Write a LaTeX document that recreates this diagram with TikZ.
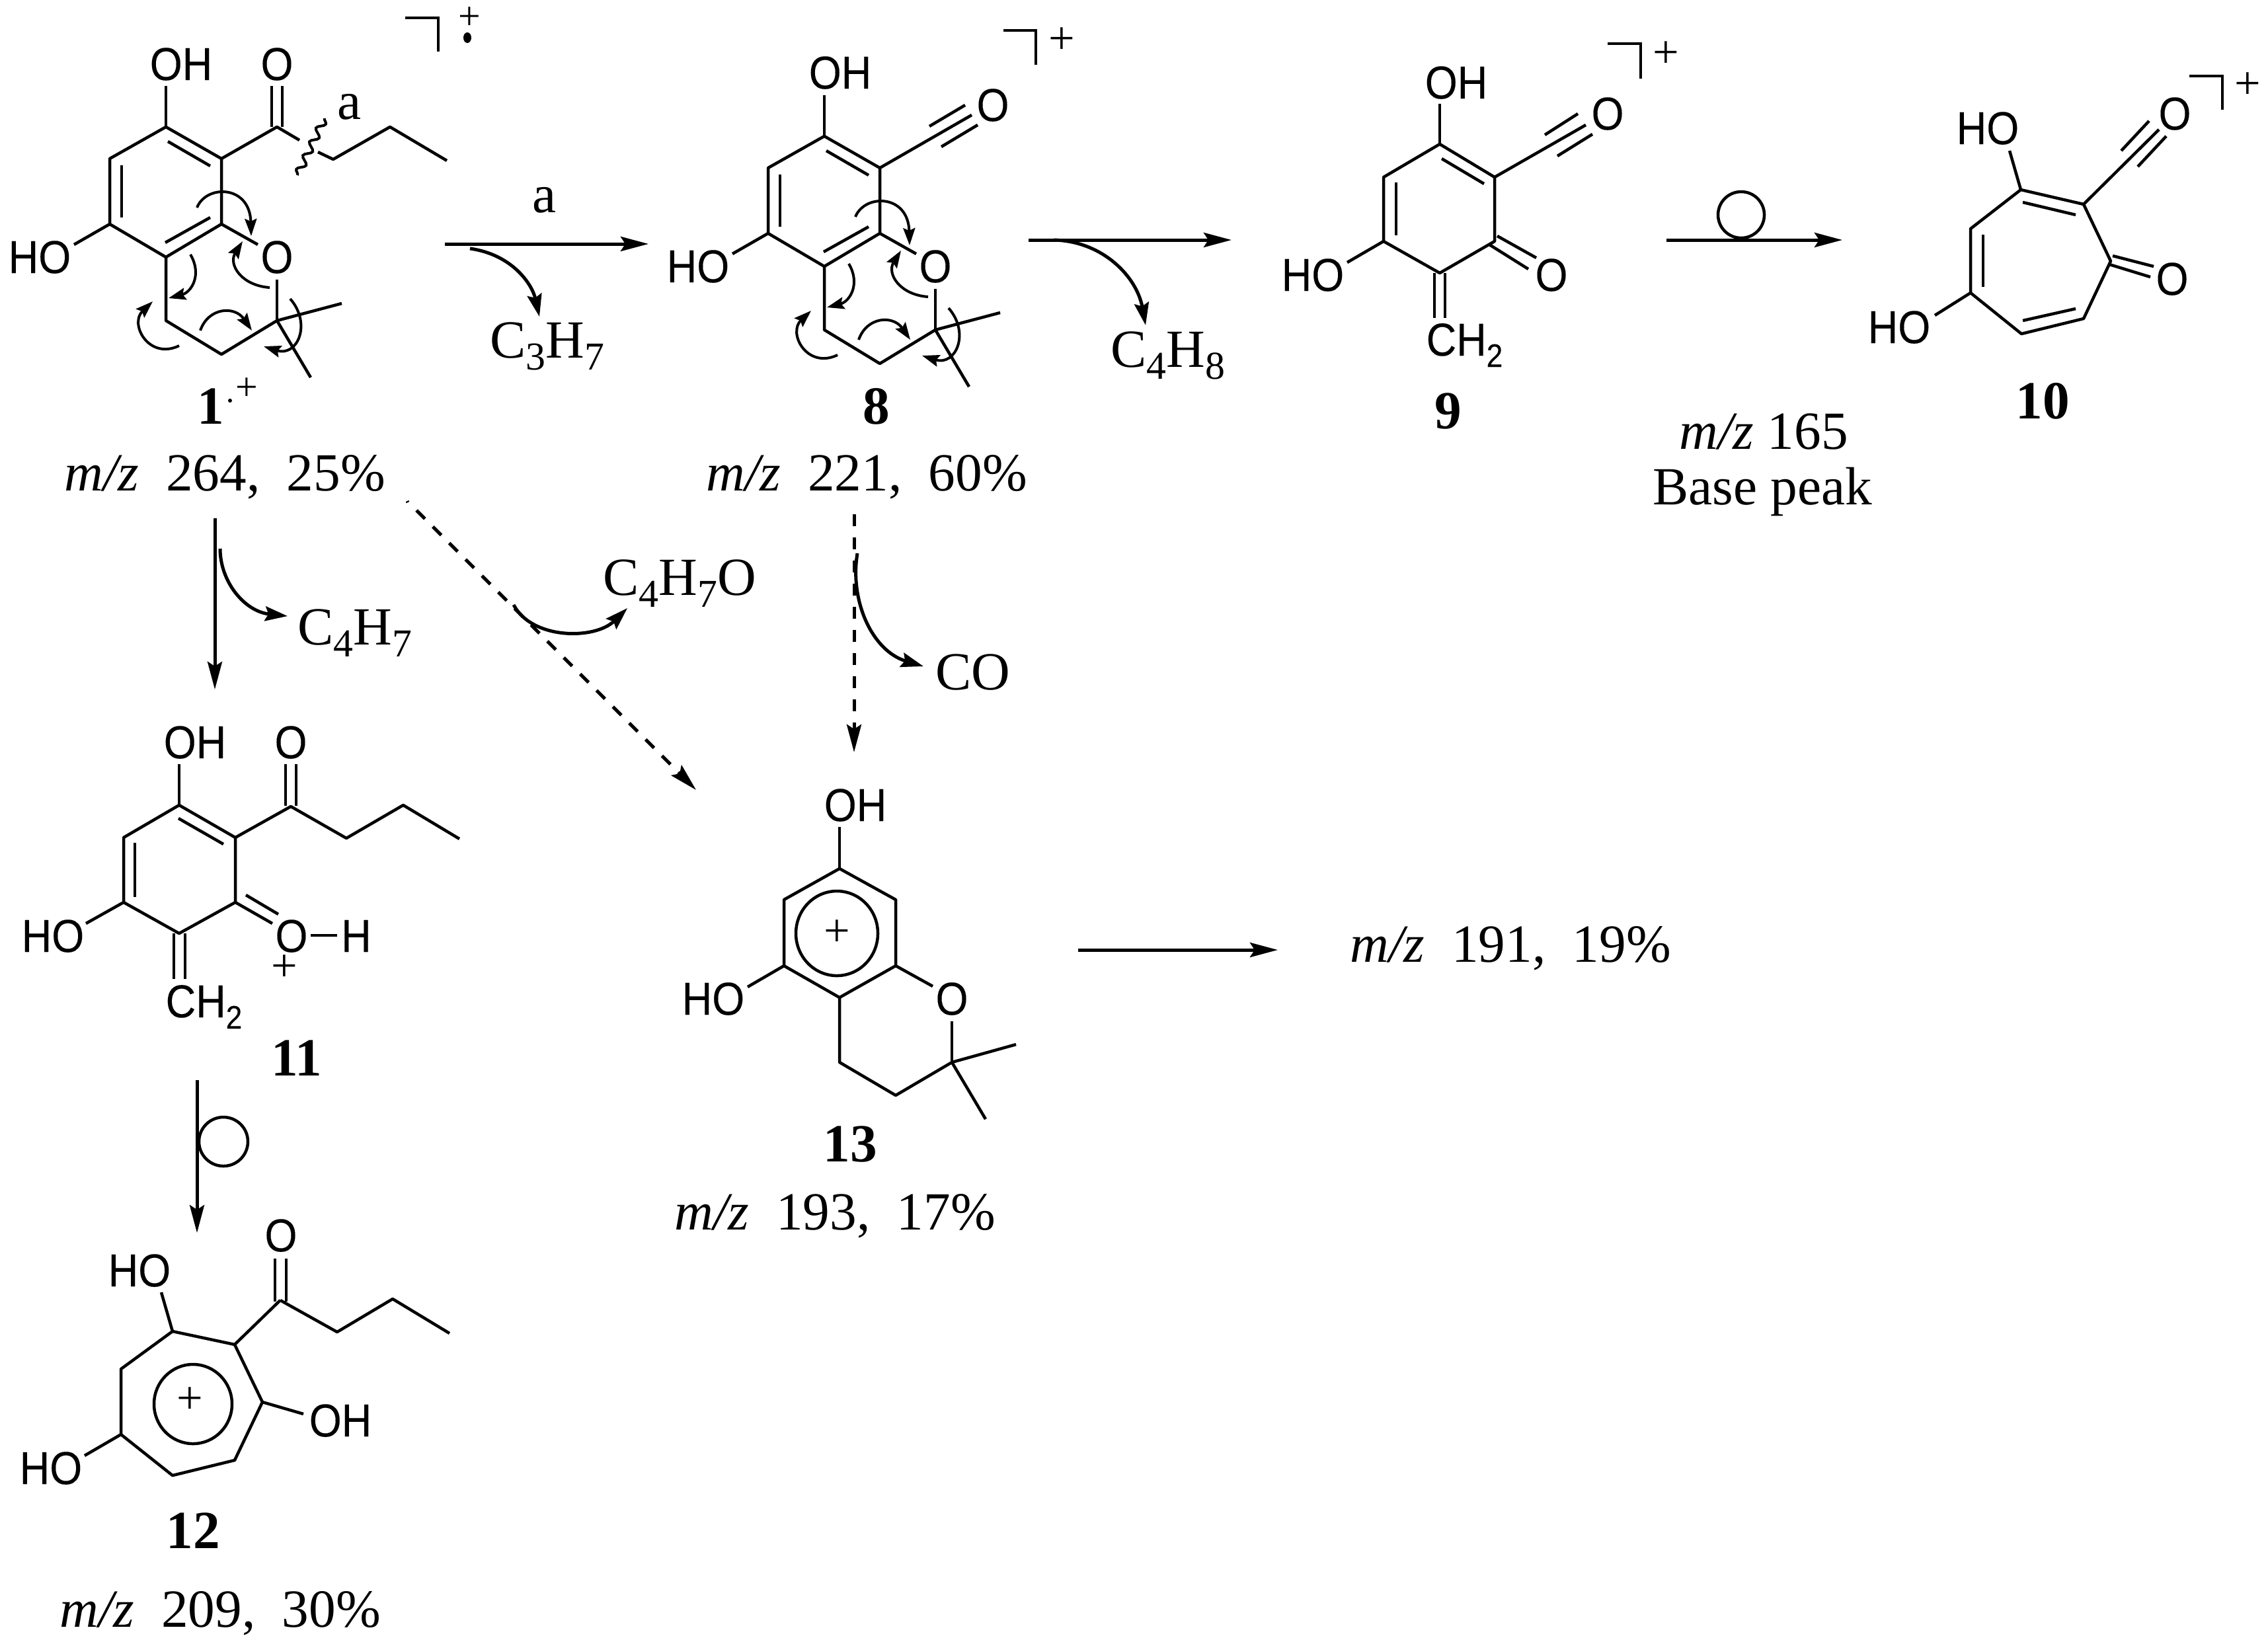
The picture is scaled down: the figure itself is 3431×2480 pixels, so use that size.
\documentclass[tikz,border=0pt]{standalone}
\usepackage{fontspec}
\setmainfont{Liberation Serif}
\newfontfamily\chemfam[FakeStretch=0.9,FakeBold=0.12]{Liberation Sans}
\usetikzlibrary{arrows.meta,decorations.pathmorphing}
\newcommand{\chemf}{\chemfam\fontsize{19.9pt}{24pt}\selectfont}
\newcommand{\serf}{\fontsize{23.1pt}{26pt}\selectfont}
\newcommand{\lowsub}[1]{\raisebox{-0.18cm}{\fontsize{17pt}{17pt}\selectfont #1}}
\newcommand{\chemsub}[1]{\raisebox{-0.17cm}{\fontsize{14pt}{14pt}\selectfont #1}}
\newcommand{\mz}{\textit{m/z}}
\tikzset{
  bond/.style={line width=0.045cm},
  thinbond/.style={line width=0.04cm},
  atom/.style={font=\chemf,inner sep=0pt,anchor=center},
  atomw/.style={font=\chemf,inner sep=0pt,anchor=base west},
  txt/.style={font=\serf,inner sep=0pt,anchor=base west},
  compound/.style={font=\serf\bfseries,inner sep=0pt,anchor=center},
  plus/.style={font=\fontsize{20pt}{20pt}\selectfont,inner sep=0pt,anchor=center},
  rxn/.style={line width=0.05cm,-{Stealth[length=0.42cm,width=0.22cm,inset=0.07cm]}},
  dashrxn/.style={rxn,dash pattern=on 0.18cm off 0.17cm},
  loss/.style={line width=0.05cm,-{Stealth[length=0.34cm,width=0.22cm,inset=0.05cm]}},
  eflow/.style={line width=0.04cm,-{Stealth[length=0.26cm,width=0.18cm,inset=0.04cm]}},
  ringcirc/.style={line width=0.045cm}
}
\newcommand{\chromancore}{%
  \draw[bond,line join=round] (335,240) -- (251,192) -- (166,240) -- (166,339) -- (251,389) -- (335,339) -- cycle;
  \draw[bond] (184,250) -- (184,329);
  \draw[bond] (254,214) -- (318,251);
  \draw[bond] (250,367) -- (318,329);
  \draw[bond] (251,192) -- (251,130);
  \draw[bond] (166,339) -- (112,370);
  \draw[bond] (335,339) -- (390,370);
  \draw[bond] (419,423) -- (419,485);
  \draw[bond,line join=round] (251,389) -- (251,485) -- (335,536) -- (419,485);
  \draw[bond] (419,485) -- (517,459);
  \draw[bond] (419,485) -- (470,571);
  \draw[eflow] (298,314) .. controls (312,279) and (378,279) .. (380,357);
  \draw[eflow] (408,435) .. controls (365,432) and (345,400) .. (367,365);
  \draw[eflow] (288,385) .. controls (306,415) and (290,442) .. (255,451);
  \draw[eflow] (271,523) .. controls (225,545) and (195,490) .. (231,456);
  \draw[eflow] (303,500) .. controls (315,465) and (355,462) .. (381,500);
  \draw[eflow] (439,452) .. controls (472,490) and (450,540) .. (399,524);
}
\begin{document}
\begin{tikzpicture}[x=0.01cm,y=-0.01cm]
\useasboundingbox (0,0) rectangle (3431,2480);
\fill[white] (0,0) rectangle (3431,2480);

% ---------- compound 1
\chromancore
\node[atom] (oh1) at (274,97) {OH};
\node[atom] (ho1) at (60,389) {HO};
\node[atom] (o1r) at (419,389) {O};
\node[atom] (o1c) at (419,97) {O};
\draw[bond] (411,130) -- (411,192);
\draw[bond] (427,130) -- (427,192);
\draw[bond,line join=round] (335,240) -- (419,192) -- (453,212);
\draw[bond,line join=round] (481,230) -- (504,241) -- (590,192) -- (676,243);
\draw[thinbond,decorate,decoration={snake,segment length=0.23cm,amplitude=0.055cm}] (491,179) -- (450,265);
\node[txt,anchor=base] (la) at (529,180) {a};
\draw[bond] (613,27) -- (663,27) -- (663,78);
\node[plus,font=\fontsize{17pt}{17pt}\selectfont] (p1) at (710,28) {+};
\fill (707,57) ellipse (6 and 8);
\node[compound] (n1) at (319,615) {1};
\fill (348,606) circle (3);
\node[plus,font=\fontsize{17pt}{17pt}\selectfont] (n1p) at (373,589) {+};
\node[txt] (mz1) at (97,742) {\mz\ \ 264,\ \ 25\%};

% ---------- arrow 1 -> 8
\coordinate (a1s) at (673,369);
\coordinate (a1e) at (981,369);
\draw[rxn] (a1s) -- (a1e);
\node[txt,anchor=base] (la2) at (824,321) {a};
\coordinate (l1s) at (711,376);
\coordinate (l1e) at (816,479);
\draw[loss] (l1s) .. controls (775,385) and (805,430) .. (l1e);
\node[txt] (c3h7) at (741,541) {C\lowsub{3}H\lowsub{7}};

% ---------- compound 8
\begin{scope}[shift={(996,14)}]
\chromancore
\end{scope}
\node[atom] (oh8) at (1271,110) {OH};
\node[atom] (ho8) at (1056,403) {HO};
\node[atom] (o8r) at (1415,403) {O};
\node[atom] (o8c) at (1502,159) {O};
\draw[bond] (1331,254) -- (1470,174);
\draw[bond] (1406,191) -- (1460,159);
\draw[bond] (1424,222) -- (1479,189);
\draw[bond] (1518,46) -- (1567,46) -- (1567,98);
\node[plus] (p8) at (1606,62) {+};
\node[compound] (n8) at (1326,615) {8};
\node[txt] (mz8) at (1068,742) {\mz\ \ 221,\ \ 60\%};

% ---------- arrow 8 -> 9
\coordinate (a2s) at (1556,363);
\coordinate (a2e) at (1863,363);
\draw[rxn] (a2s) -- (a2e);
\coordinate (l2s) at (1594,363);
\coordinate (l2e) at (1733,492);
\draw[loss] (l2s) .. controls (1670,365) and (1720,420) .. (l2e);
\node[txt] (c4h8) at (1680,555) {C\lowsub{4}H\lowsub{8}};

% ---------- compound 9
\draw[bond,line join=round] (2261,268) -- (2178,218) -- (2093,268) -- (2093,365) -- (2178,413) -- (2261,365) -- cycle;
\draw[bond] (2112,276) -- (2112,356);
\draw[bond] (2181,240) -- (2245,278);
\draw[bond] (2178,218) -- (2178,157);
\draw[bond] (2261,268) -- (2399,189);
\draw[bond] (2337,204) -- (2387,172);
\draw[bond] (2356,236) -- (2409,203);
\draw[bond] (2265,357) -- (2324,390);
\draw[bond] (2253,370) -- (2312,407);
\draw[bond] (2093,365) -- (2038,397);
\draw[bond] (2170,413) -- (2170,481);
\draw[bond] (2186,413) -- (2186,481);
\node[atom] (oh9) at (2203,125) {OH};
\node[atom] (o9t) at (2432,172) {O};
\node[atom] (o9b) at (2347,416) {O};
\node[atom] (ho9) at (1986,416) {HO};
\node[atomw] (ch9) at (2157,538) {CH\chemsub{2}};
\draw[bond] (2432,66) -- (2482,66) -- (2482,119);
\node[plus] (p9) at (2520,83) {+};
\node[compound] (n9) at (2191,622) {9};

% ---------- arrow 9 -> 10
\coordinate (a3s) at (2521,363);
\coordinate (a3e) at (2787,363);
\draw[rxn] (a3s) -- (a3e);
\draw[ringcirc] (2634,325) circle (35);
\node[txt] (mz10) at (2540,679) {\mz\ 165};
\node[txt] (bp) at (2500,763) {Base peak};

% ---------- compound 10
\draw[bond,line join=round] (3152,309) -- (3057,287) -- (2981,346) -- (2981,443) -- (3058,505) -- (3152,482) -- (3193,395) -- cycle;
\draw[bond] (3060,306) -- (3140,325);
\draw[bond] (3000,355) -- (3000,434);
\draw[bond] (3060,485) -- (3140,467);
\draw[bond] (3057,287) -- (3040,228);
\draw[bond] (3152,309) -- (3266,196);
\draw[bond] (3209,228) -- (3251,183);
\draw[bond] (3234,252) -- (3277,206);
\draw[bond] (3196,387) -- (3258,403);
\draw[bond] (3191,400) -- (3253,419);
\draw[bond] (2981,443) -- (2927,477);
\node[atom] (ho10a) at (3007,194) {HO};
\node[atom] (o10t) at (3290,172) {O};
\node[atom] (o10b) at (3286,422) {O};
\node[atom] (ho10b) at (2873,495) {HO};
\draw[bond] (3312,115) -- (3362,115) -- (3362,166);
\node[plus] (p10) at (3400,130) {+};
\node[compound] (n10) at (3090,607) {10};

% ---------- arrow 1 -> 11
\coordinate (a4s) at (325,784);
\coordinate (a4e) at (325,1043);
\draw[rxn] (a4s) -- (a4e);
\coordinate (l4s) at (333,830);
\coordinate (l4e) at (435,932);
\draw[loss] (l4s) .. controls (333,880) and (370,925) .. (l4e);
\node[txt] (c4h7) at (450,975) {C\lowsub{4}H\lowsub{7}};

% ---------- arrow 1 -> 13 (dashed)
\coordinate (d1d) at (616,758);
\coordinate (d1d2) at (617,760);
\draw[line width=0.05cm] (d1d) -- (d1d2);
\coordinate (d1s) at (630,772);
\coordinate (d1e) at (1053,1195);
\draw[dashrxn] (d1s) -- (d1e);
\coordinate (l5s) at (777,915);
\coordinate (l5e) at (949,920);
\draw[loss] (l5s) .. controls (805,968) and (900,968) .. (l5e);
\node[txt] (c4h7o) at (912,900) {C\lowsub{4}H\lowsub{7}O};

% ---------- arrow 8 -> 13 (dashed)
\coordinate (d2s) at (1292,778);
\coordinate (d2e) at (1292,1138);
\draw[dashrxn] (d2s) -- (d2e);
\coordinate (l6s) at (1297,837);
\coordinate (l6e) at (1397,1008);
\draw[loss] (l6s) .. controls (1285,910) and (1320,985) .. (l6e);
\node[txt] (co) at (1415,1043) {CO};

% ---------- compound 11
\draw[bond,line join=round] (356,1267) -- (271,1218) -- (187,1267) -- (187,1365) -- (271,1412) -- (356,1365) -- cycle;
\draw[bond] (204,1275) -- (204,1357);
\draw[bond] (270,1238) -- (338,1277);
\draw[bond] (271,1218) -- (271,1156);
\draw[bond] (432,1156) -- (432,1219);
\draw[bond] (448,1156) -- (448,1219);
\draw[bond,line join=round] (356,1267) -- (440,1220) -- (524,1268) -- (610,1218) -- (695,1269);
\draw[bond] (187,1365) -- (130,1397);
\draw[bond] (356,1365) -- (412,1397);
\draw[bond] (372,1354) -- (421,1383);
\draw[bond] (470,1415) -- (510,1415);
\draw[bond] (263,1412) -- (263,1481);
\draw[bond] (280,1412) -- (280,1481);
\node[atom] (oh11) at (295,1123) {OH};
\node[atom] (o11c) at (440,1123) {O};
\node[atom] (ho11) at (80,1416) {HO};
\node[atom] (o11p) at (441,1416) {O};
\node[atom] (h11) at (539,1416) {H};
\node[plus] (p11) at (430,1465) {+};
\node[atomw] (ch11) at (250,1539) {CH\chemsub{2}};
\node[compound] (n11) at (449,1601) {11};

% ---------- arrow 11 -> 12
\coordinate (a5s) at (298,1634);
\coordinate (a5e) at (298,1865);
\draw[rxn] (a5s) -- (a5e);
\draw[ringcirc] (338,1727) circle (37);

% ---------- compound 12
\draw[bond,line join=round] (355,2034) -- (261,2014) -- (183,2071) -- (183,2170) -- (261,2232) -- (355,2209) -- (397,2121) -- cycle;
\draw[ringcirc] (292,2124) ellipse (59 and 60);
\node[plus] (p12) at (287,2119) {+};
\draw[bond] (261,2014) -- (244,1955);
\draw[bond] (355,2034) -- (424,1967);
\draw[bond] (416,1904) -- (416,1969);
\draw[bond] (433,1904) -- (433,1969);
\draw[bond,line join=round] (424,1967) -- (510,2015) -- (594,1965) -- (680,2017);
\draw[bond] (397,2121) -- (459,2139);
\draw[bond] (183,2170) -- (128,2202);
\node[atom] (ho12a) at (211,1922) {HO};
\node[atom] (o12) at (425,1869) {O};
\node[atom] (oh12) at (515,2149) {OH};
\node[atom] (ho12b) at (77,2221) {HO};
\node[compound] (n12) at (292,2316) {12};
\node[txt] (mz12) at (90,2461) {\mz\ \ 209,\ \ 30\%};

% ---------- compound 13
\draw[bond,line join=round] (1355,1361) -- (1270,1314) -- (1186,1361) -- (1186,1461) -- (1270,1509) -- (1355,1461) -- cycle;
\draw[ringcirc] (1266,1412) ellipse (62 and 64);
\node[plus] (p13) at (1266,1412) {+};
\draw[bond] (1270,1314) -- (1270,1251);
\draw[bond] (1186,1461) -- (1131,1493);
\draw[bond] (1355,1461) -- (1411,1492);
\draw[bond] (1440,1545) -- (1440,1607);
\draw[bond,line join=round] (1270,1509) -- (1270,1607) -- (1355,1657) -- (1440,1607);
\draw[bond] (1440,1607) -- (1537,1580);
\draw[bond] (1440,1607) -- (1491,1693);
\node[atom] (oh13) at (1294,1218) {OH};
\node[atom] (ho13) at (1079,1511) {HO};
\node[atom] (o13) at (1440,1511) {O};
\node[compound] (n13) at (1286,1731) {13};
\node[txt] (mz13) at (1020,1860) {\mz\ \ 193,\ \ 17\%};

% ---------- arrow 13 -> m/z 191
\coordinate (a6s) at (1631,1437);
\coordinate (a6e) at (1933,1437);
\draw[rxn] (a6s) -- (a6e);
\node[txt] (mz191) at (2042,1455) {\mz\ \ 191,\ \ 19\%};
\end{tikzpicture}
\end{document}
